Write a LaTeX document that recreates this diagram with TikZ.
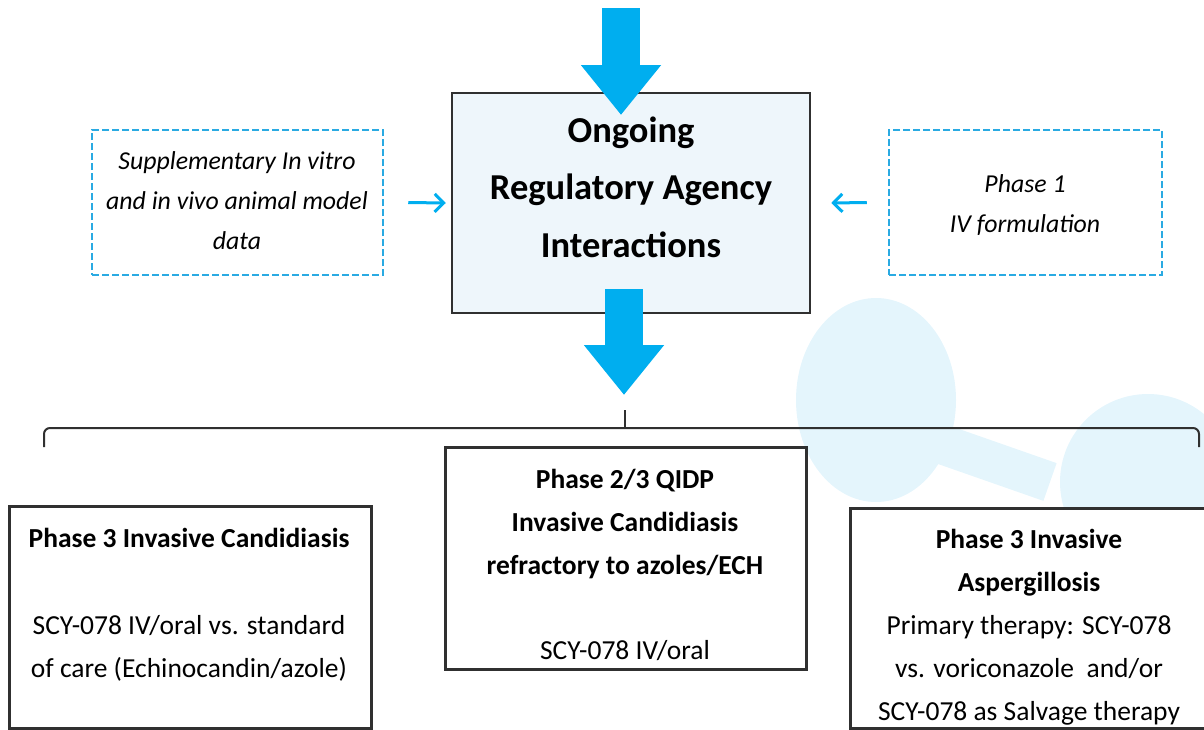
\documentclass[tikz,border=0pt]{standalone}
\usepackage{fontspec}
\setmainfont{Carlito}
\usepackage{tikz}
\usetikzlibrary{arrows.meta,positioning}
\definecolor{arrowblue}{HTML}{00AEEF}
\definecolor{dashblue}{HTML}{2AAAE2}
\definecolor{boxfill}{HTML}{EEF6FB}
\definecolor{markblue}{HTML}{E4F5FC}
\definecolor{edgegray}{HTML}{303030}
\tikzset{
  mainbox/.style   = {shape=rectangle, draw=edgegray, line width=2.5pt,
                      fill=boxfill, inner sep=0pt},
  sidebox/.style   = {shape=rectangle, draw=dashblue, line width=2.5pt,
                      dash pattern=on 7pt off 3pt, fill=white, inner sep=0pt},
  trialbox/.style  = {shape=rectangle, draw=edgegray, line width=2.5pt,
                      fill=white, inner sep=0pt, anchor=north west},
  headtext/.style  = {align=center, anchor=base, inner sep=0pt,
                      font=\fontsize{36.5}{57.5}\selectfont\bfseries},
  sidetext/.style  = {align=center, anchor=base, inner sep=0pt,
                      font=\fontsize{25.8}{40}\selectfont\itshape},
  trialtext/.style = {align=center, anchor=base, inner sep=0pt,
                      font=\fontsize{27.5}{43}\selectfont}
}

\begin{document}
\begin{tikzpicture}
  [
    x                  = 1pt,
    y                  = -1pt,
    bigarrow/.style    = {draw=arrowblue, line width=38pt,
                          -{Triangle[width=77pt, length=50pt]}},
    smallarrow/.style  = {draw=arrowblue, line width=3pt,
                          -{Straight Barb[length=9pt, width=18pt]}},
    bracketline/.style = {draw=edgegray, line width=2pt, rounded corners=6pt}
  ]
  \useasboundingbox (0,0) rectangle (1204,729);

  % faint logo behind the lower boxes
  \fill[markblue] (876,400) ellipse [x radius=80pt, y radius=102pt];
  \draw[markblue, line width=40pt] (930,440) -- (1050,482);
  \fill[markblue] (1148,482) circle [radius=88pt];

  % bracket over the three trials
  \coordinate (brace-l) at (44,447);
  \coordinate (brace-r) at (1199,447);
  \coordinate (brace-m) at (625,410);
  \draw[bracketline] (brace-l) -- (44,428) -- (1199,428) -- (brace-r);
  \draw[bracketline] (625,428) -- (brace-m);

  \node[mainbox, minimum width=358pt, minimum height=220pt] (agency) at (631,203) {};
  \node[sidebox, minimum width=291pt, minimum height=145pt] (invitro) at (237.5,202.5) {};
  \node[sidebox, minimum width=273pt, minimum height=145pt] (phaseone) at (1025.5,202.5) {};

  \node[trialbox, minimum width=362pt, minimum height=222pt] (candida) at (8,505) {};
  \node[trialbox, minimum width=361pt, minimum height=222pt] (refract) at (444,446) {};
  \node[trialbox, minimum width=380pt, minimum height=220pt] (asperg) at (849,507) {};

  % arrows
  \coordinate (feed) at (621,8);
  \coordinate (feedtip) at (621,115);
  \coordinate (split) at (624,395);
  \draw[bigarrow] (feed) -- (feedtip);
  \draw[bigarrow] ([yshift=25pt]agency.south -| split) -- (split);
  \draw[smallarrow] ([xshift=24pt]invitro.east) -- ([xshift=-5pt]agency.west);
  \draw[smallarrow] ([xshift=-21pt]phaseone.west) -- ([xshift=20pt]agency.east);

  % texts (anchored on the baseline of the last line)
  \node[headtext] (agency-t) at (631,257) {Ongoing\\Regulatory Agency\\Interactions};
  \node[sidetext] (invitro-t) at (237,249) {Supplementary In vitro\\and in vivo animal model\\data};
  \node[sidetext] (phaseone-t) at (1025,232) {Phase 1\\IV formulation};
  \node[trialtext] (candida-t) at (189,677)
    {\textbf{Phase 3 Invasive Candidiasis}\\[44pt]
     SCY-078 IV/oral vs. standard\\of care (Echinocandin/azole)};
  \node[trialtext] (refract-t) at (625,659)
    {\textbf{Phase 2/3 QIDP}\\\textbf{Invasive Candidiasis}\\\textbf{refractory to azoles/ECH}\\[42pt]
     SCY-078 IV/oral};
  \node[trialtext] (asperg-t) at (1029,720)
    {\textbf{Phase 3 Invasive}\\\textbf{Aspergillosis}\\Primary therapy: SCY-078\\
     vs. voriconazole\ \ and/or\\SCY-078 as Salvage therapy};
\end{tikzpicture}
\end{document}
